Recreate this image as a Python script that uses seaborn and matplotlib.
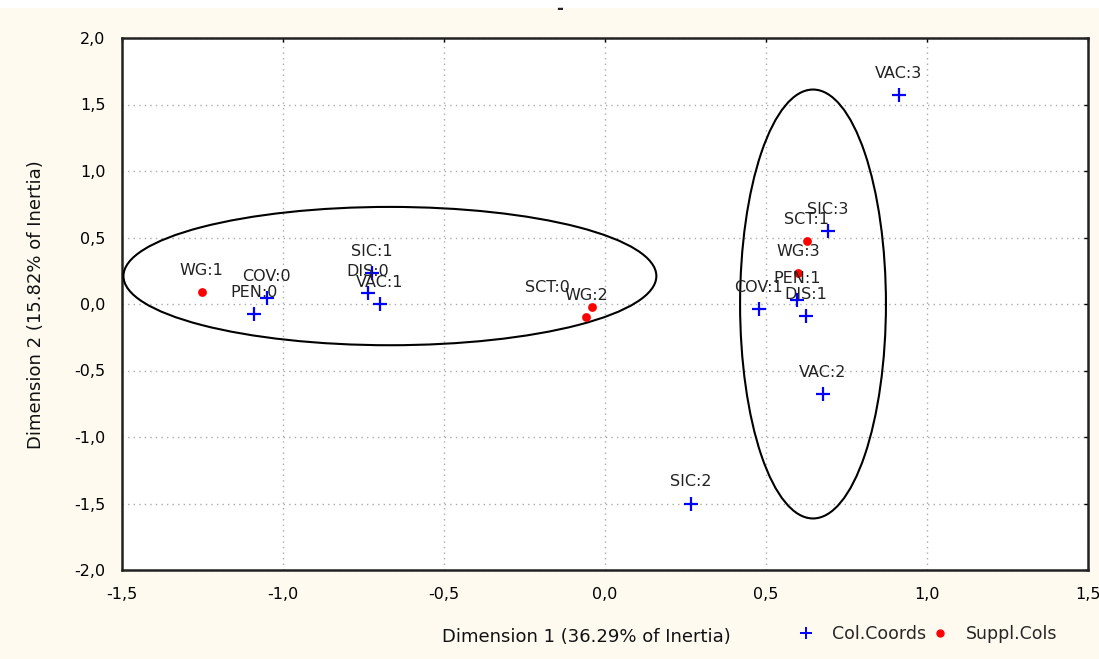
import matplotlib
matplotlib.use("Agg")
import matplotlib.pyplot as plt
from matplotlib.patches import Ellipse, Rectangle
from matplotlib.lines import Line2D
from matplotlib.ticker import FuncFormatter
import seaborn as sns
import pandas as pd

# ---- data ----
col_labels = ["COV:0", "PEN:0", "SIC:1", "DIS:0", "VAC:1", "SIC:2",
              "COV:1", "PEN:1", "DIS:1", "SIC:3", "VAC:2", "VAC:3"]
col_x = [-1.050, -1.090, -0.724, -0.736, -0.699, 0.267,
         0.478, 0.596, 0.624, 0.693, 0.677, 0.913]
col_y = [0.045, -0.075, 0.233, 0.083, 0.000, -1.500,
         -0.040, 0.030, -0.090, 0.550, -0.680, 1.570]

sup_labels = ["WG:1", "SCT:0", "WG:2", "WG:3", "SCT:1"]
sup_x = [-1.252, -0.040, -0.059, 0.599, 0.627]
sup_y = [0.090, -0.020, -0.100, 0.230, 0.470]

# ellipses: (center x, center y, width, height)
ell_left = (-0.668, 0.21, 1.655, 1.04)
ell_right = (0.646, 0.0, 0.453, 3.225)

x_ticks = [-1.5, -1.0, -0.5, 0.0, 0.5, 1.0, 1.5]
y_ticks = [-2.0, -1.5, -1.0, -0.5, 0.0, 0.5, 1.0, 1.5, 2.0]
x_title = "Dimension 1 (36.29% of Inertia)"
y_title = "Dimension 2 (15.82% of Inertia)"
legend_names = ["Col.Coords", "Suppl.Cols"]

# ---- style ----
sns.set_style("white")
plt.rcParams["font.family"] = ["DejaVu Sans"]

BG = "#FFFAF0"
fig = plt.figure(figsize=(10.99, 6.59), dpi=100, facecolor=BG)
ax = fig.add_axes([122 / 1099, 1 - 570 / 659, (1088 - 122) / 1099, (570 - 38) / 659])
ax.set_facecolor("white")

# white strip at top
fig.patches.append(Rectangle((0, 1 - 8 / 659), 1, 8 / 659, transform=fig.transFigure,
                             facecolor="white", edgecolor="none", zorder=0))
fig.text(560 / 1099, 1 - 9 / 659, "-", ha="center", va="center", fontsize=12,
         fontweight="bold", color="#222222")

df_col = pd.DataFrame({"x": col_x, "y": col_y, "label": col_labels})
df_sup = pd.DataFrame({"x": sup_x, "y": sup_y, "label": sup_labels})

sns.scatterplot(data=df_col, x="x", y="y", marker="+", s=110, linewidth=1.6,
                color="#0000FF", ax=ax, legend=False, zorder=4)
sns.scatterplot(data=df_sup, x="x", y="y", marker="o", s=40, linewidth=0,
                color="#FF0000", ax=ax, legend=False, zorder=4)

label_offsets = {"SCT:0": (-32, 14)}
for lab, x, y in list(zip(col_labels, col_x, col_y)) + list(zip(sup_labels, sup_x, sup_y)):
    dx, dy = label_offsets.get(lab, (0, 15.5))
    ax.annotate(lab, (x, y), xytext=(dx, dy), textcoords="offset points",
                ha="center", va="center", fontsize=11.5, color="#222222", zorder=5)

for cx, cy, w, h in (ell_left, ell_right):
    ax.add_patch(Ellipse((cx, cy), w, h, fill=False, edgecolor="black", lw=1.5, zorder=3))

ax.set_xlim(x_ticks[0], x_ticks[-1])
ax.set_ylim(y_ticks[0], y_ticks[-1])
ax.set_xticks(x_ticks)
ax.set_yticks(y_ticks)
fmt = FuncFormatter(lambda v, p: f"{v:.1f}".replace(".", ","))
ax.xaxis.set_major_formatter(fmt)
ax.yaxis.set_major_formatter(fmt)
ax.tick_params(axis="both", direction="in", length=3, width=1, labelsize=11.5,
               top=True, right=True, colors="black")
ax.tick_params(axis="x", pad=12.5)
ax.tick_params(axis="y", pad=12)
ax.grid(True, color="#AAAAAA", linestyle=(0, (1, 3)), linewidth=1)
for sp in ax.spines.values():
    sp.set_color("#222222")
    sp.set_linewidth(1.8)
ax.set_xlabel("")
ax.set_ylabel("")

fig.text(586 / 1099, 1 - 637 / 659, x_title, ha="center", va="center", fontsize=13,
         color="#111111")
fig.text(36 / 1099, 1 - 305 / 659, y_title, ha="center", va="center", fontsize=13,
         rotation=90, color="#111111")

handles = [Line2D([], [], marker="+", color="#0000FF", linestyle="none",
                  markersize=9, markeredgewidth=1.4),
           Line2D([], [], marker="o", color="#FF0000", linestyle="none",
                  markersize=5)]
fig.legend(handles, legend_names, loc="center left",
           bbox_to_anchor=(797 / 1099, 1 - 634 / 659), ncol=2, frameon=False,
           fontsize=12.5, handlelength=1.0, handletextpad=1.0, columnspacing=0.3,
           borderpad=0, borderaxespad=0)

fig.savefig("out.png", dpi=100, facecolor=BG)
